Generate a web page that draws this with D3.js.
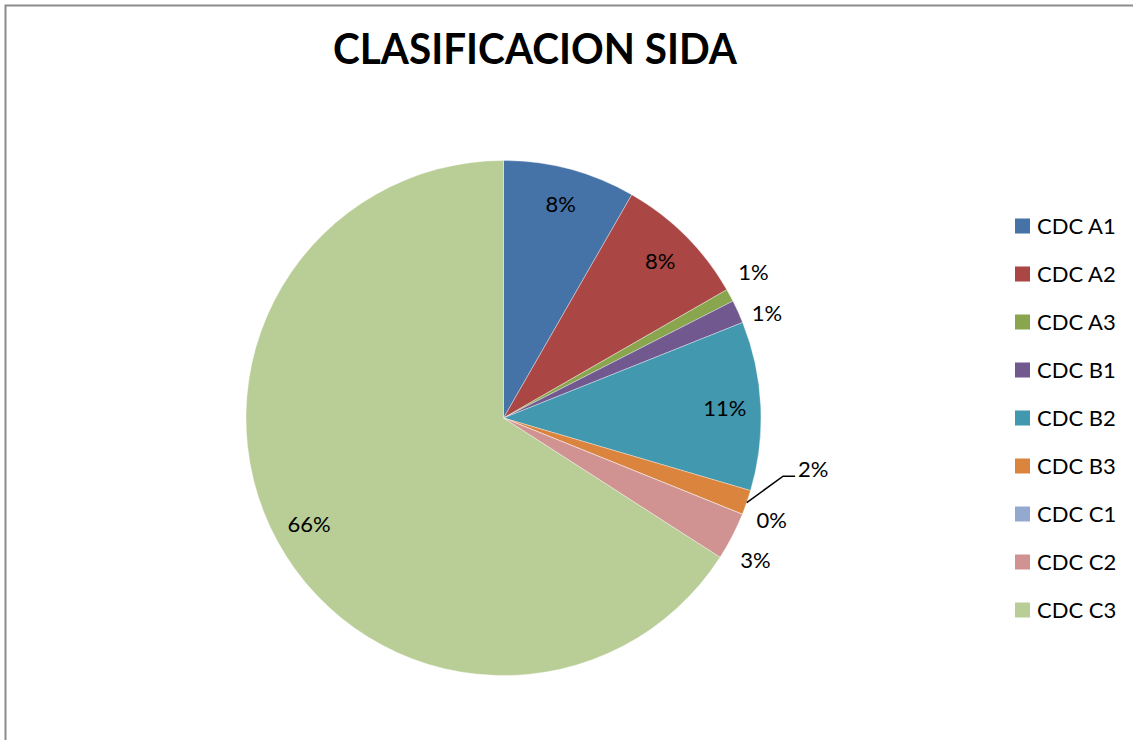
<!DOCTYPE html>
<html><head><meta charset="utf-8">
<script src="https://cdn.jsdelivr.net/npm/d3@7"></script>
<style>
html,body{margin:0;padding:0;background:#fff;}
svg{display:block;}
text{font-family:Lato,"Open Sans",sans-serif;}
</style></head>
<body>
<svg id="chart" width="1133" height="740"></svg>
<script>
// ---- data ----
const title = "CLASIFICACION SIDA";
const categories = ["CDC A1","CDC A2","CDC A3","CDC B1","CDC B2","CDC B3","CDC C1","CDC C2","CDC C3"];
const values = [8.3, 8.4, 0.8, 1.45, 10.6, 1.55, 0, 3.0, 65.9];
const colors = ["#4572A7","#AA4643","#89A54E","#71588F","#4198AF","#DB843D","#93A9CF","#D19392","#B9CD96"];

// ---- layout ----
const W = 1133, H = 740;
const cx = 503.5, cy = 418, R = 257.5;
// outside-label placement (angle in degrees clockwise from 12 o'clock, distance from centre)
const outsideLabels = {
  "CDC A3": {deg: 59.7, dist: 289.5},
  "CDC B1": {deg: 68.3, dist: 283.6},
  "CDC B3": {deg: 99.4, dist: 313.8, leader: true},
  "CDC C1": {deg: 110.8, dist: 286.8},
  "CDC C2": {deg: 119.4, dist: 289.3}
};

const svg = d3.select("#chart");
svg.append("rect").attr("x",0).attr("y",0).attr("width",W).attr("height",H).attr("fill","#fff");
// chart frame
svg.append("path").attr("d",`M5.5,${H+5} L5.5,5.5 L${W+5},5.5`)
  .attr("fill","none").attr("stroke","#8c8c8c").attr("stroke-width",2);

svg.append("text").attr("x",535).attr("y",64).attr("text-anchor","middle")
  .attr("font-size",42).attr("font-weight","bold").attr("fill","#000")
  .attr("textLength",404).attr("lengthAdjust","spacingAndGlyphs").text(title);

const data = categories.map((c,i)=>({cat:c, value:values[i], color:colors[i]}));
const pie = d3.pie().value(d=>d.value).sort(null).startAngle(0).endAngle(2*Math.PI);
const arcs = pie(data);
const arc = d3.arc().innerRadius(0).outerRadius(R);
const total = d3.sum(values);
const fmt = d3.format(".0%");

const g = svg.append("g").attr("transform",`translate(${cx},${cy})`);
g.selectAll("path.slice").data(arcs).join("path").attr("class","slice")
  .attr("d",arc).attr("fill",d=>d.data.color)
  .attr("stroke","#ffffff").attr("stroke-width",0.6).attr("stroke-opacity",0.6);

const polar = (deg, dist) => {
  const a = deg*Math.PI/180;
  return [dist*Math.sin(a), -dist*Math.cos(a)];
};

const fs = 22;
arcs.forEach(d=>{
  const lbl = fmt(d.data.value/total);
  const o = outsideLabels[d.data.cat];
  let x, y;
  if (o) {
    [x,y] = polar(o.deg, o.dist);
    if (o.leader) {
      const mid = (d.startAngle+d.endAngle)/2;
      const p0 = [R*Math.sin(mid), -R*Math.cos(mid)];
      const endX = x - 18, endY = y + 7;
      g.append("polyline")
        .attr("points",[p0,[endX-12,endY],[endX,endY]].map(p=>p.join(",")).join(" "))
        .attr("fill","none").attr("stroke","#000").attr("stroke-width",1.5);
    }
  } else {
    const mid = (d.startAngle+d.endAngle)/2;
    const rr = R*0.86;
    x = rr*Math.sin(mid); y = -rr*Math.cos(mid);
  }
  g.append("text").attr("x",x).attr("y",y).attr("dy","0.36em")
    .attr("text-anchor","middle").attr("font-size",fs).attr("fill","#000").text(lbl);
});

// legend
const lg = svg.append("g");
const rows = lg.selectAll("g").data(data).join("g")
  .attr("transform",(d,i)=>`translate(1015,${226+48*i})`);
rows.append("rect").attr("x",0).attr("y",-7.5).attr("width",15).attr("height",15).attr("fill",d=>d.color);
rows.append("text").attr("x",22).attr("y",0).attr("dy","0.36em").attr("font-size",fs)
  .attr("fill","#000").text(d=>d.cat);
</script>
</body></html>
